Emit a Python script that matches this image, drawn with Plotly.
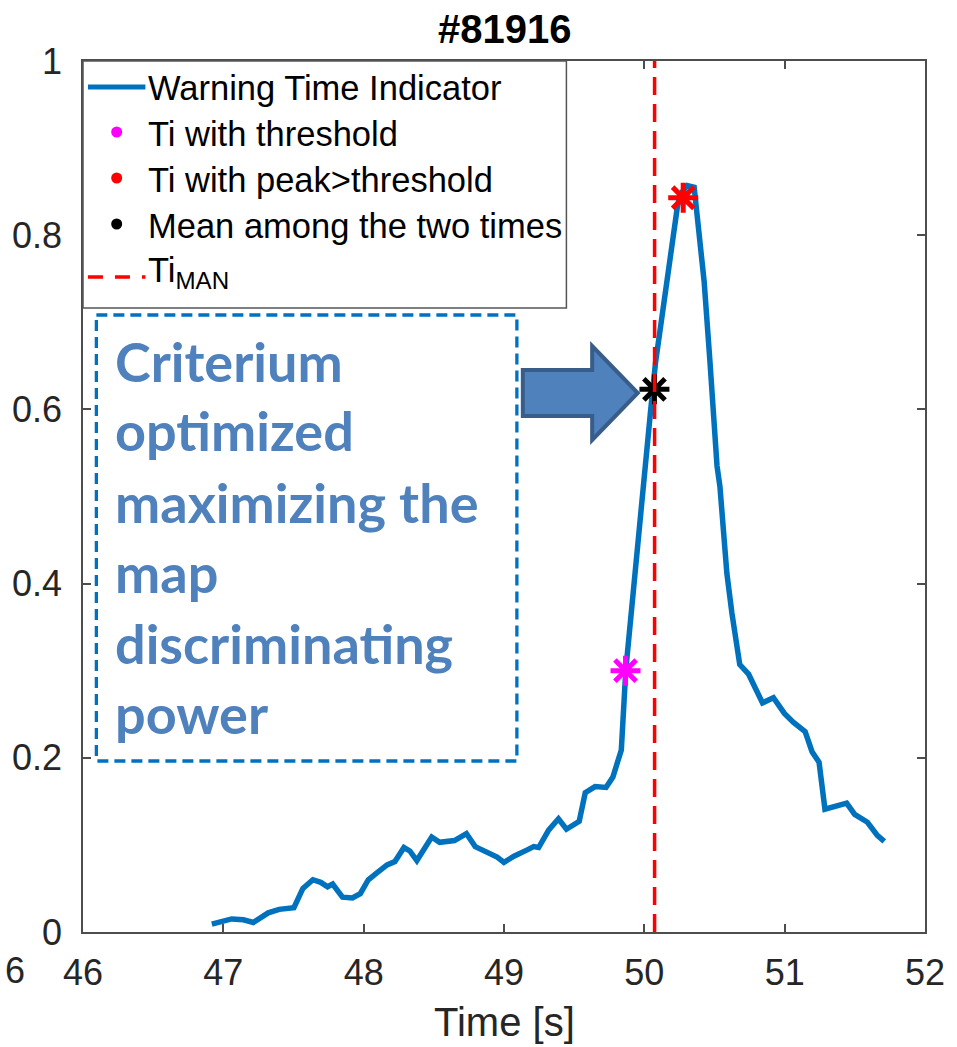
import plotly.graph_objects as go

# ---------------- data ----------------
time_s = [46.918, 47.059, 47.143, 47.214, 47.320, 47.398, 47.503, 47.567, 47.638, 47.694,
          47.743, 47.779, 47.849, 47.920, 47.976, 48.033, 48.103, 48.167, 48.223, 48.287,
          48.329, 48.379, 48.485, 48.541, 48.647, 48.732, 48.795, 48.894, 48.951, 49.000,
          49.071, 49.162, 49.212, 49.247, 49.318, 49.388, 49.445, 49.536, 49.579, 49.649,
          49.727, 49.776, 49.819, 49.836, 49.868, 49.953, 50.045, 50.080, 50.130, 50.165,
          50.200, 50.235, 50.256, 50.306, 50.355, 50.377, 50.426, 50.468, 50.518, 50.539,
          50.588, 50.624, 50.680, 50.743, 50.786, 50.842, 50.920, 50.998, 51.061, 51.146,
          51.195, 51.245, 51.287, 51.343, 51.442, 51.499, 51.590, 51.660, 51.710]
warning_indicator = [0.009, 0.015, 0.014, 0.011, 0.022, 0.026, 0.028, 0.050, 0.060, 0.057,
                     0.052, 0.055, 0.040, 0.039, 0.044, 0.060, 0.069, 0.077, 0.081, 0.097,
                     0.093, 0.082, 0.109, 0.103, 0.105, 0.113, 0.098, 0.090, 0.086, 0.080,
                     0.087, 0.094, 0.098, 0.097, 0.117, 0.130, 0.118, 0.127, 0.160, 0.167,
                     0.166, 0.178, 0.203, 0.209, 0.301, 0.450, 0.599, 0.654, 0.713, 0.755,
                     0.785, 0.832, 0.847, 0.857, 0.855, 0.824, 0.747, 0.654, 0.535, 0.511,
                     0.412, 0.366, 0.307, 0.296, 0.281, 0.263, 0.269, 0.251, 0.241, 0.230,
                     0.207, 0.195, 0.141, 0.144, 0.148, 0.135, 0.126, 0.111, 0.104]

ti_threshold_t = [49.866]
ti_threshold_v = [0.300]
ti_peak_t = [50.277]
ti_peak_v = [0.843]
ti_mean_t = [50.072]
ti_mean_v = [0.623]
ti_man_t = [50.073, 50.073]
ti_man_v = [0.0, 1.0]

x_ticks = [46, 47, 48, 49, 50, 51, 52]
x_tick_labels = ["46", "47", "48", "49", "50", "51", "52"]
y_ticks = [0, 0.2, 0.4, 0.6, 0.8, 1.0]
y_tick_labels = ["0", "0.2", "0.4", "0.6", "0.8", "1"]

legend_labels = ["Warning Time Indicator", "Ti with threshold", "Ti with peak>threshold",
                 "Mean among the two times", "Ti<sub>MAN</sub>"]
box_lines = ["Criterium", "optimized", "maximizing the", "map", "discriminating", "power"]

# ---------------- layout geometry (pixels) ----------------
W, H = 957, 1047
L, R, T, B = 80, 27, 61, 115
X_MIN, X_MAX = 46, 52
Y_MIN, Y_MAX = 0, 1
PW = W - L - R
PH = H - T - B


def px(xp):
    """pixel x -> data x (for decorations)"""
    return X_MIN + (xp - L) / PW * (X_MAX - X_MIN)


def py(yp):
    """pixel y -> data y (for decorations)"""
    return Y_MIN + (T + PH - yp) / PH * (Y_MAX - Y_MIN)


def qx(xp):
    """pixel x -> paper x"""
    return (xp - L) / PW


def qy(yp):
    """pixel y -> paper y"""
    return (T + PH - yp) / PH


BLUE = "#0072BD"
FONT = "Liberation Sans"

fig = go.Figure()

fig.add_trace(go.Scatter(x=time_s, y=warning_indicator, mode="lines",
                         line=dict(color=BLUE, width=5.5), name="Warning Time Indicator",
                         showlegend=False))
for tx, ty, col, nm in [(ti_threshold_t, ti_threshold_v, "#FF00FF", "Ti with threshold"),
                        (ti_peak_t, ti_peak_v, "#FF0000", "Ti with peak>threshold"),
                        (ti_mean_t, ti_mean_v, "#000000", "Mean among the two times")]:
    fig.add_trace(go.Scatter(x=tx, y=ty, mode="markers", name=nm, showlegend=False,
                             marker=dict(symbol="asterisk-open", size=25, color=col,
                                         line=dict(color=col, width=5))))
fig.add_trace(go.Scatter(x=ti_man_t, y=ti_man_v, mode="lines", name="TiMAN", showlegend=False,
                         line=dict(color="#FF0000", width=3.5, dash="18px,9px")))

shapes = []
annotations = []

# dashed text box
shapes.append(dict(type="rect", xref="paper", yref="paper", x0=qx(93.5), x1=qx(518), y0=qy(315), y1=qy(761),
                   line=dict(color="#0070C0", width=3.3, dash="11px,6px"), fillcolor="rgba(0,0,0,0)",
                   layer="above"))
line_centers = [361, 431, 502, 572, 643, 713]
for txt, yc in zip(box_lines, line_centers):
    annotations.append(dict(x=qx(110), y=qy(yc), xref="paper", yref="paper", text=txt, showarrow=False,
                            xanchor="left", yanchor="middle",
                            font=dict(family="Lato", size=54, color="#4F81BD", weight="bold")))

# block arrow
arrow_pts = [(524, 370), (594, 370), (594, 346), (640, 393), (594, 440), (594, 416), (524, 416)]
path = "M " + " L ".join(f"{px(a)},{py(b)}" for a, b in arrow_pts) + " Z"
shapes.append(dict(type="path", xref="x", yref="y", path=path, fillcolor="#4F81BD",
                   line=dict(color="#385D8A", width=4), layer="above"))

# legend
shapes.append(dict(type="rect", xref="paper", yref="paper", x0=qx(80), x1=qx(568), y0=qy(61), y1=qy(308),
                   line=dict(color="#555555", width=1.5), fillcolor="white", layer="above"))
shapes.append(dict(type="line", xref="paper", yref="paper", x0=qx(85), x1=qx(143), y0=qy(87), y1=qy(87),
                   line=dict(color=BLUE, width=5), layer="above"))
for yc, col in [(132, "#FF00FF"), (178, "#FF0000"), (224, "#000000")]:
    shapes.append(dict(type="circle", xref="paper", yref="paper", xsizemode="pixel", ysizemode="pixel",
                       xanchor=qx(114), yanchor=qy(yc), x0=-5.5, x1=5.5, y0=-5.5, y1=5.5,
                       fillcolor=col, line=dict(color=col, width=0), layer="above"))
shapes.append(dict(type="line", xref="paper", yref="paper", x0=qx(85), x1=qx(143), y0=qy(277), y1=qy(277),
                   line=dict(color="#FF0000", width=3.5, dash="15px,12px"), layer="above"))
for txt, yc in zip(legend_labels, [88, 134, 180, 226, 272]):
    annotations.append(dict(x=qx(144), y=qy(yc), xref="paper", yref="paper", text=txt, showarrow=False,
                            xanchor="left", yanchor="middle",
                            font=dict(family=FONT, size=34.5, color="#000000")))

# title, axis label, stray tick label fragment at far left
annotations.append(dict(x=0.5, y=qy(29), xref="paper", yref="paper", text="<b>#81916</b>", showarrow=False,
                        xanchor="center", yanchor="middle",
                        font=dict(family=FONT, size=40, color="#000000")))
annotations.append(dict(x=0.5, y=qy(1022), xref="paper", yref="paper", text="Time [s]", showarrow=False,
                        xanchor="center", yanchor="middle",
                        font=dict(family=FONT, size=40, color="#262626")))
annotations.append(dict(x=qx(0), y=qy(971), xref="paper", yref="paper", text="6", showarrow=False,
                        xanchor="left", yanchor="middle", borderpad=0,
                        font=dict(family=FONT, size=36, color="#262626")))

axis_common = dict(showgrid=False, zeroline=False, showline=True, linecolor="#4d4d4d", linewidth=1.5,
                   mirror="ticks", ticks="inside", ticklen=8, tickwidth=1.5, tickcolor="#4d4d4d",
                   tickfont=dict(family=FONT, size=36, color="#262626"))

fig.update_layout(
    width=W, height=H,
    margin=dict(l=L, r=R, t=T, b=B, pad=0),
    paper_bgcolor="white", plot_bgcolor="white",
    showlegend=False,
    xaxis=dict(range=[X_MIN, X_MAX], tickvals=x_ticks, ticktext=x_tick_labels,
               ticklabelstandoff=8, **axis_common),
    yaxis=dict(range=[Y_MIN, Y_MAX], tickvals=y_ticks, ticktext=y_tick_labels,
               ticklabelstandoff=12, **axis_common),
    shapes=shapes,
    annotations=annotations,
)

fig.write_html("out.html")
